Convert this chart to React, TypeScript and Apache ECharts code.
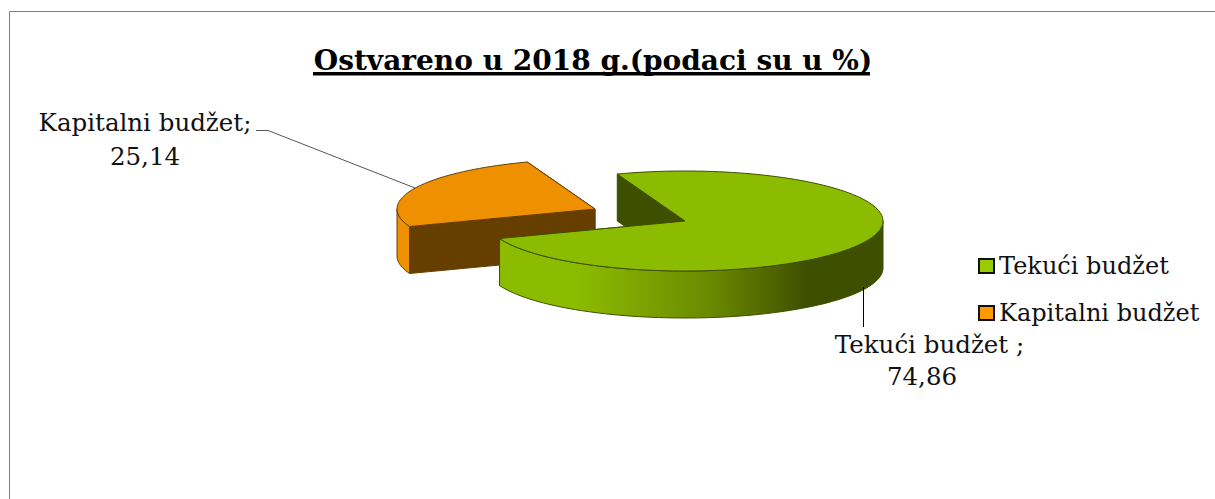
import React, { useEffect, useRef } from "react";
import * as echarts from "echarts";

const titleText = "Ostvareno u 2018 g.(podaci su u %)";
const categories = ["Tekući budžet", "Kapitalni budžet"];
const values = [74.86, 25.14];
const labelLines = [
  ["Tekući budžet ;", "74,86"],
  ["Kapitalni budžet;", "25,14"],
];

const FONT = "'DejaVu Serif', serif";
const START_DEG = 340;
const CX = 685;
const CY = 221;
const RX = 198;
const RY = 50;
const DEPTH = 47;
const EXPLODE = [[0, 0], [-90, -12]];

const total = values.reduce((a, b) => a + b, 0);

function pt(deg: number, ox: number, oy: number, dz: number) {
  const r = (deg * Math.PI) / 180;
  return [CX + ox + RX * Math.sin(r), CY + oy - RY * Math.cos(r) + dz];
}

function arc(from: number, to: number, ox: number, oy: number, dz: number) {
  const out: number[][] = [];
  const n = Math.max(2, Math.ceil((to - from) / 2));
  for (let i = 0; i <= n; i++) out.push(pt(from + ((to - from) * i) / n, ox, oy, dz));
  return out;
}

const styles = [
  {
    top: "#8CBC00",
    edge: "#3F4F00",
    radial: "#3F4F00",
    wall: new echarts.graphic.LinearGradient(0, 0, 1, 0, [
      { offset: 0, color: "#8CBC00" },
      { offset: 0.2, color: "#8CBC00" },
      { offset: 0.55, color: "#6A8A00" },
      { offset: 0.8, color: "#3F4F00" },
      { offset: 1, color: "#3F4F00" },
    ]),
    legend: "#99CC00",
  },
  {
    top: "#EE9000",
    edge: "#663F00",
    radial: "#663F00",
    wall: "#EE9000",
    legend: "#FF9900",
  },
];

const labelPositions = [
  [{ x: 929.5, y: 344 }, { x: 922, y: 376 }],
  [{ x: 145, y: 122 }, { x: 145, y: 156 }],
];
const leaders = [
  [[863.5, 287], [863.5, 327]],
  [[256, 130.5], [268, 130.5], [415, 188]],
];
const leaderColors = ["#000000", "#555555"];

function renderSlice(seriesIndex: number) {
  return (_params: any, api: any) => {
    const value = api.value(0);
    const before = values.slice(0, seriesIndex).reduce((a, b) => a + b, 0);
    const from = START_DEG + (before / total) * 360;
    const to = from + (value / total) * 360;
    const [ox, oy] = EXPLODE[seriesIndex];
    const st = styles[seriesIndex];
    const apex = [CX + ox, CY + oy];
    const apexLow = [CX + ox, CY + oy + DEPTH];
    const children: any[] = [];

    // radial walls
    [from, to].forEach((deg) => {
      children.push({
        type: "polygon",
        shape: { points: [apex, pt(deg, ox, oy, 0), pt(deg, ox, oy, DEPTH), apexLow] },
        style: { fill: st.radial, stroke: st.edge, lineWidth: 1 },
      });
    });
    // outer wall, only the part turned to the viewer (90..270 degrees, mod 360)
    [0, 360].forEach((shift) => {
      const a = Math.max(from, 90 + shift);
      const b = Math.min(to, 270 + shift);
      if (b > a) {
        const upper = arc(a, b, ox, oy, 0);
        const lower = arc(a, b, ox, oy, DEPTH).reverse();
        children.push({
          type: "polygon",
          shape: { points: upper.concat(lower) },
          style: { fill: st.wall, stroke: st.edge, lineWidth: 1 },
        });
      }
    });
    // top face
    children.push({
      type: "polygon",
      shape: { points: [apex].concat(arc(from, to, ox, oy, 0)) },
      style: { fill: st.top, stroke: st.edge, lineWidth: 1 },
    });
    // leader line and label
    children.push({
      type: "polyline",
      shape: { points: leaders[seriesIndex] },
      style: { stroke: leaderColors[seriesIndex], lineWidth: 1, fill: "none" },
    });
    labelLines[seriesIndex].forEach((line, k) => {
      const p = labelPositions[seriesIndex][k];
      children.push({
        type: "text",
        x: p.x,
        y: p.y,
        style: {
          text: line,
          fill: "#111111",
          font: `24.5px ${FONT}`,
          textAlign: "center",
          textVerticalAlign: "middle",
        },
      });
    });
    return { type: "group", children };
  };
}

export default function App() {
  const ref = useRef<HTMLDivElement>(null);
  useEffect(() => {
    document.body.style.margin = "0";
    const chart = echarts.init(ref.current as HTMLDivElement, undefined, { renderer: "svg" });
    chart.setOption({
      animation: false,
      backgroundColor: "#ffffff",
      title: {
        text: titleText,
        left: 588,
        top: 41,
        textAlign: "center",
        textStyle: { fontFamily: FONT, fontWeight: "bold", fontSize: 28, color: "#000000" },
      },
      legend: {
        orient: "vertical",
        left: 973,
        top: 249,
        itemGap: 23,
        itemWidth: 15,
        itemHeight: 14,
        icon: "rect",
        selectedMode: false,
        textStyle: { fontFamily: FONT, fontSize: 24, color: "#111111" },
        data: categories.map((name, i) => ({
          name,
          itemStyle: { color: styles[i].legend, borderColor: "#111111", borderWidth: 2 },
        })),
      },
      graphic: [
        {
          type: "rect",
          shape: { x: 9.5, y: 11.5, width: 1300, height: 600 },
          style: { fill: "none", stroke: "#808080", lineWidth: 1 },
          z: 0,
          silent: true,
        },
        {
          type: "rect",
          shape: { x: 313, y: 72, width: 557, height: 3.5 },
          style: { fill: "#000000" },
          silent: true,
        },
      ],
      series: categories.map((name, i) => ({
        type: "custom",
        name,
        coordinateSystem: "none",
        z: i === 0 ? 3 : 2,
        itemStyle: { color: styles[i].legend },
        renderItem: renderSlice(i),
        data: [[values[i]]],
        silent: true,
      })),
    });
    return () => chart.dispose();
  }, []);
  return <div ref={ref} style={{ position: "absolute", left: 0, top: 0, width: 1215, height: 499 }} />;
}
